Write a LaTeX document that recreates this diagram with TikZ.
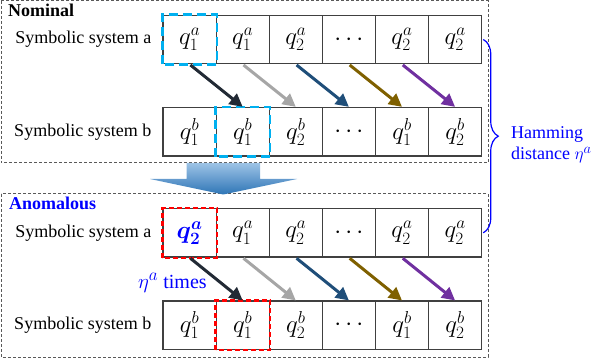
\documentclass[tikz,border=0pt]{standalone}
\usepackage{fontspec}
\setmainfont{Liberation Serif}
\usepackage{bm}
\usetikzlibrary{arrows.meta,positioning,decorations.pathreplacing}
\DeclareMathSizes{23}{23}{18}{14}
\DeclareMathSizes{20}{20}{16}{12}
\DeclareMathSizes{18}{18}{14.5}{11}
\definecolor{cellgray}{HTML}{404040}
\definecolor{boxgray}{HTML}{595959}
\definecolor{hlcyan}{HTML}{00B0F0}
\definecolor{hlred}{HTML}{FF0000}
\definecolor{hlblue}{HTML}{0000FF}
\definecolor{arrnavy}{HTML}{222A35}
\definecolor{arrgray}{HTML}{A6A6A6}
\definecolor{arrblue}{HTML}{1F4E79}
\definecolor{arrgold}{HTML}{7F6000}
\definecolor{arrpurple}{HTML}{7030A0}
\definecolor{bigtop}{HTML}{9DC3E6}
\definecolor{bigbot}{HTML}{2E75B6}
\begin{document}
\begin{tikzpicture}[x=1pt, y=-1pt,
    cell/.style={draw=cellgray, line width=1.2pt, minimum width=53.1pt, minimum height=48.5pt, inner sep=0pt, font=\fontsize{23}{25}\selectfont},
    lbl/.style={font=\fontsize{18}{21}\selectfont, inner sep=0pt},
    grpbox/.style={draw=boxgray, line width=1pt, dash pattern=on 3pt off 2pt},
    nomhl/.style={draw=hlcyan, line width=2.5pt, dash pattern=on 9pt off 5pt},
    anohl/.style={draw=hlred, line width=2.2pt, dash pattern=on 5pt off 3pt},
    trans/.style={line width=3pt, -{Triangle[length=13pt,width=13pt]}, shorten <=1pt}]

    \useasboundingbox (0,0) rectangle (594,358);

    \draw[grpbox] (1,1) rectangle (488,163);
    \draw[grpbox] (1,194) rectangle (488,357);

    % nominal
    \foreach \i/\t in {1/q_1^a,2/q_1^a,3/q_2^a,4/\cdots,5/q_2^a,6/q_2^a}
        \node[cell] (na\i) at (136.5+53.1*\i, 39.5) {$\t$};
    \foreach \i/\t in {1/q_1^b,2/q_1^b,3/q_2^b,4/\cdots,5/q_1^b,6/q_2^b}
        \node[cell] (nb\i) at (136.5+53.1*\i, 131.7) {$\t$};

    % anomalous
    \node[cell] (aa1) at (189.6, 232.8) {$\color{hlblue}\bm{q_2^a}$};
    \foreach \i/\t in {2/q_1^a,3/q_2^a,4/\cdots,5/q_2^a,6/q_2^a}
        \node[cell] (aa\i) at (136.5+53.1*\i, 232.8) {$\t$};
    \foreach \i/\t in {1/q_1^b,2/q_1^b,3/q_2^b,4/\cdots,5/q_1^b,6/q_2^b}
        \node[cell] (ab\i) at (136.5+53.1*\i, 325.3) {$\t$};

    \node[lbl, font=\fontsize{18}{21}\selectfont\bfseries, anchor=base west] (nomtitle) at (8,16.5) {Nominal};
    \node[lbl, font=\fontsize{18}{21}\selectfont\bfseries, text=hlblue, anchor=base west] (anotitle) at (9,209.5) {Anomalous};
    \node[lbl, left=11pt of na1] (nomsa) {Symbolic system a};
    \node[lbl, left=11pt of nb1] (nomsb) {Symbolic system b};
    \node[lbl, left=11pt of aa1] (anosa) {Symbolic system a};
    \node[lbl, left=11pt of ab1] (anosb) {Symbolic system b};

    \draw[nomhl] (na1.south west) rectangle (na1.north east);
    \draw[nomhl] (nb2.south west) rectangle (nb2.north east);
    \draw[anohl] (aa1.south west) rectangle (aa1.north east);
    \draw[anohl] (ab2.south west) rectangle (ab2.north east);

    \foreach \i/\j/\c in {1/2/arrnavy,2/3/arrgray,3/4/arrblue,4/5/arrgold,5/6/arrpurple}{
        \draw[trans, \c] (na\i.south) -- (nb\j.north);
        \draw[trans, \c] (aa\i.south) -- (ab\j.north);
    }

    \node[lbl, font=\fontsize{20}{22}\selectfont, text=hlblue, anchor=base west] (times) at (138,288.3) {$\eta^a$ times};

    \shade[top color=bigtop, bottom color=bigbot]
        (186.7,163) -- (260,163) -- (260,179) -- (297,179) -- (223.3,194.5)
        -- (150,179) -- (186.7,179) -- cycle;

    \draw[hlblue, line width=1.2pt, decorate, decoration={brace, amplitude=15pt}]
        ([xshift=1pt]na6.east) -- ([xshift=1pt]aa6.east);
    \node[lbl, text=hlblue, align=left, anchor=west] (hamming) at (511,145) {Hamming\\distance $\eta^a$};
\end{tikzpicture}
\end{document}
